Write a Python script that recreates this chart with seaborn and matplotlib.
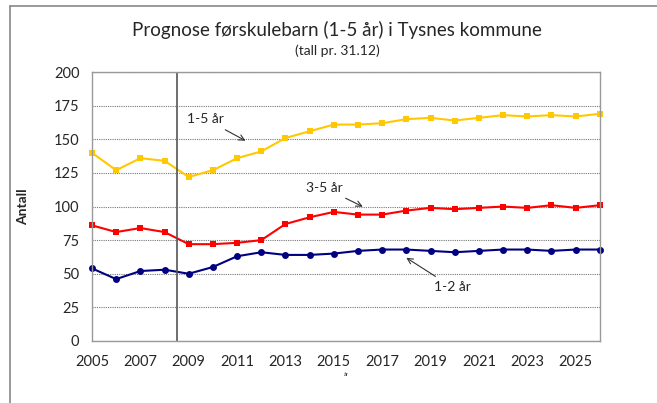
import pandas as pd
import matplotlib.pyplot as plt
import seaborn as sns
from matplotlib.lines import Line2D

# Data
years = list(range(2005, 2027))
age_1_5 = [140, 127, 136, 134, 122, 127, 136, 141, 151, 156, 161,
           161, 162, 165, 166, 164, 166, 168, 167, 168, 167, 169]
age_3_5 = [86, 81, 84, 81, 72, 72, 73, 75, 87, 92, 96,
           94, 94, 97, 99, 98, 99, 100, 99, 101, 99, 101]
age_1_2 = [54, 46, 52, 53, 50, 55, 63, 66, 64, 64, 65,
           67, 68, 68, 67, 66, 67, 68, 68, 67, 68, 68]
series_names = ["1-5 år", "3-5 år", "1-2 år"]

df = pd.DataFrame({
    "År": years * 3,
    "Antall": age_1_5 + age_3_5 + age_1_2,
    "Gruppe": [series_names[0]] * len(years) + [series_names[1]] * len(years)
              + [series_names[2]] * len(years),
})

sns.set_style("white")
plt.rcParams["font.family"] = ["Lato", "DejaVu Sans"]

fig = plt.figure(figsize=(6.57, 4.03), dpi=100)
ax = fig.add_axes([0.140, 0.154, 0.773, 0.667])

palette = {"1-5 år": "#FFC800", "3-5 år": "#FF0000", "1-2 år": "#000080"}
markers = {"1-5 år": "s", "3-5 år": "s", "1-2 år": "o"}
sns.lineplot(data=df, x="År", y="Antall", hue="Gruppe", style="Gruppe",
             palette=palette, markers=markers, dashes=False,
             markersize=5, markeredgewidth=0, linewidth=1.5,
             legend=False, ax=ax, clip_on=False)

ax.set_xlim(2005, 2026)
ax.set_ylim(0, 200)
ax.set_yticks(range(0, 201, 25))
ax.set_xticks(range(2005, 2027, 2))
ax.set_xticks(range(2005, 2027), minor=True)
ax.tick_params(axis="both", which="both", direction="out", length=4,
               color="#888888", labelsize=10.5, pad=5)
ax.tick_params(axis="x", which="major", pad=6)
ax.yaxis.grid(True, linestyle=(0, (1, 1)), color="#777777", linewidth=0.8)
for s in ax.spines.values():
    s.set_color("#999999")
    s.set_linewidth(1)

# separation line between history and prognosis
ax.axvline(2008.5, color="#555555", linewidth=1.2)

ax.set_ylabel("Antall", fontsize=10, fontweight="bold", labelpad=18)
ax.set_xlabel("år", fontsize=4, labelpad=2)

fig.text(0.513, 0.925, "Prognose førskulebarn (1-5 år) i Tysnes kommune",
         ha="center", va="center", fontsize=13.5)
fig.text(0.513, 0.873, "(tall pr. 31.12)", ha="center", va="center", fontsize=10)

arrow = dict(arrowstyle="->", color="#333333", lw=0.8)
ax.annotate("1-5 år", xy=(2011.45, 148), xytext=(2009.7, 165),
            ha="center", va="center", fontsize=10, arrowprops=arrow)
ax.annotate("3-5 år", xy=(2016.3, 99), xytext=(2014.6, 114),
            ha="center", va="center", fontsize=10, arrowprops=arrow)
ax.annotate("1-2 år", xy=(2017.9, 63), xytext=(2019.9, 40),
            ha="center", va="center", fontsize=10, arrowprops=arrow)

# document frame around the chart
fig.add_artist(Line2D([0.015, 0.015], [0.0, 0.985], color="#888888", lw=1.2))
fig.add_artist(Line2D([0.015, 1.0], [0.985, 0.985], color="#888888", lw=1.2))

fig.savefig("out.png", dpi=100)
